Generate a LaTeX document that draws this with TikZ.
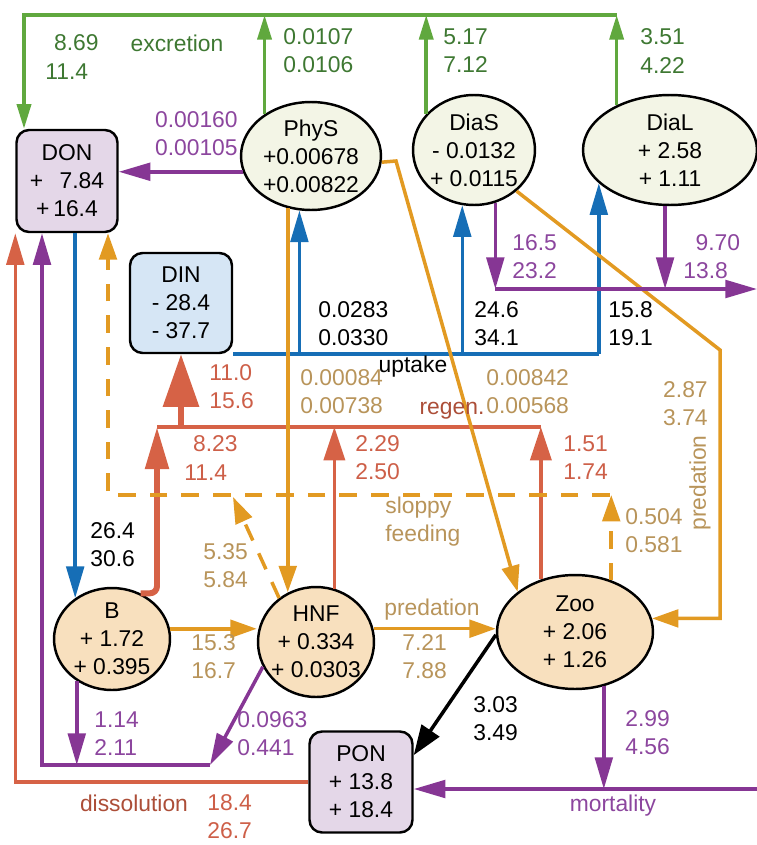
\documentclass[tikz,border=0pt]{standalone}
\usepackage{fontspec}
\setmainfont{Liberation Sans}
\usepackage{tikz}
\usetikzlibrary{shapes.geometric, arrows.meta}

\definecolor{cGreen}{RGB}{96,168,62}
\definecolor{cGreenT}{RGB}{62,120,50}
\definecolor{cBlue}{RGB}{22,110,182}
\definecolor{cPurple}{RGB}{134,54,148}
\definecolor{cPurpleT}{RGB}{140,70,158}
\definecolor{cOrange}{RGB}{226,154,34}
\definecolor{cTan}{RGB}{184,148,90}
\definecolor{cRed}{RGB}{214,98,70}
\definecolor{cRedT}{RGB}{205,95,72}
\definecolor{cRedD}{RGB}{172,78,56}
\definecolor{cPhy}{RGB}{243,245,230}
\definecolor{cZoo}{RGB}{248,224,190}
\definecolor{cOM}{RGB}{228,215,232}
\definecolor{cDIN}{RGB}{214,230,245}

\begin{document}
\begin{tikzpicture}[x=0.02cm, y=-0.02cm,
    every node/.style={font=\fontsize{13}{16}\selectfont},
    pool/.style={draw, line width=1.4pt, rounded corners=0.25cm, align=center, inner sep=0pt},
    cell/.style={draw, ellipse, line width=1.4pt, inner sep=0pt},
    txt/.style={align=center, inner sep=0pt},
    lbl/.style={inner sep=0pt, align=left, anchor=west},
    flow/.style={line width=2pt},
    excr/.style={flow, cGreen, -{Triangle[length=14pt,width=8pt]}},
    upt/.style={flow, cBlue, -{Triangle[length=18pt,width=10pt]}},
    mort/.style={flow, cPurple, -{Triangle[length=18pt,width=10pt]}},
    pred/.style={flow, cOrange, -{Triangle[length=15pt,width=10pt]}},
    sloppy/.style={pred, dash pattern=on 10pt off 8pt},
    regen/.style={flow, cRed, -{Triangle[length=19pt,width=12pt]}},
    diss/.style={flow, cRed, -{Triangle[length=18pt,width=10pt]}},
    graz/.style={flow, black, -{Triangle[length=17pt,width=12pt]}}
  ]
  \useasboundingbox (0,0) rectangle (757,845);

  % pools
  \node[pool, fill=cOM, minimum width=2.02cm, minimum height=2.04cm] (DON) at (67,181) {DON\\+\hphantom{1}\,7.84\\+\,16.4};
  \node[pool, fill=cDIN, minimum width=2.04cm, minimum height=2.0cm] (DIN) at (181,303) {DIN\\- 28.4\\- 37.7};
  \node[pool, fill=cOM, minimum width=2.06cm, minimum height=2.02cm] (PON) at (361,782) {PON\\+ 13.8\\+ 18.4};

  % organisms
  \node[cell, fill=cPhy, minimum width=2.8cm, minimum height=2.16cm,
    label={[txt]center:PhyS\\+0.00678\\+0.00822}] (PhyS) at (311,156) {};
  \node[cell, fill=cPhy, minimum width=2.44cm, minimum height=2.2cm,
    label={[txt]center:DiaS\\- 0.0132\\+ 0.0115}] (DiaS) at (474,150) {};
  \node[cell, fill=cPhy, minimum width=3.48cm, minimum height=2.2cm,
    label={[txt]center:DiaL\\+ 2.58\\+ 1.11}] (DiaL) at (670,150) {};
  \node[cell, fill=cZoo, minimum width=2.32cm, minimum height=2.04cm,
    label={[txt]center:B\\+ 1.72\\+ 0.395}] (B) at (112,639) {};
  \node[cell, fill=cZoo, minimum width=2.32cm, minimum height=2.2cm,
    label={[txt]center:HNF\\+ 0.334\\+ 0.0303}] (HNF) at (316,642) {};
  \node[cell, fill=cZoo, minimum width=3.12cm, minimum height=2.28cm,
    label={[txt]center:Zoo\\+ 2.06\\+ 1.26}] (Zoo) at (575,632) {};

  % corner points
  \coordinate (excL) at (24,15);
  \coordinate (dsOut) at (757,289);
  \coordinate (regL) at (157,427);
  \coordinate (slR) at (610,495);
  \coordinate (slL) at (108,495);
  \coordinate (slH) at (233,497);
  \coordinate (pz) at (396,161);
  \coordinate (pr) at (720,350);
  \coordinate (pL) at (42,765);
  \coordinate (pH) at (210,765);
  \coordinate (mR) at (757,789);

  % excretion
  \draw[excr] (DiaL.140.6 |- excL) -- (excL) -- (excL |- DON.north);
  \draw[excr] (PhyS.138.5) -- (PhyS.138.5 |- excL);
  \draw[excr] (DiaS.143.3) -- (DiaS.143.3 |- excL);
  \draw[excr] (DiaL.140.6) -- (DiaL.140.6 |- excL);

  % uptake
  \draw[upt, -] (DIN.south east) -- (DIN.south east -| DiaL.205);
  \draw[upt] (PhyS.258.3 |- DIN.south east) -- (PhyS.258.3);
  \draw[upt] (DiaS.258.5 |- DIN.south east) -- (DiaS.258.5);
  \draw[upt] (DiaL.205 |- DIN.south east) -- (DiaL.205);
  \draw[upt] (B.132 |- DON.south) -- (B.132);

  % regeneration
  \draw[regen, line width=3.4pt, -{Triangle[length=24pt,width=13pt]}, rounded corners=4pt] (B.58.1) -| (regL);
  \draw[regen, -] (regL) -- (Zoo.123.5 |- regL);
  \draw[regen] (HNF.71) -- (HNF.71 |- regL);
  \draw[regen] (Zoo.123.5) -- (Zoo.123.5 |- regL);
  \draw[regen, line width=3.4pt, -{Triangle[length=30pt,width=20pt]}] (DIN.south |- regL) -- (DIN.south);

  % predation
  \draw[pred] (PhyS.246.8) -- (PhyS.246.8 |- HNF.119);
  \draw[pred] (PhyS.355.9) -- (pz) -- (Zoo.145.7);
  \draw[pred] (DiaS.-44) -- (pr) |- (Zoo.10.5);
  \draw[pred] (B.10) -- (B.10 -| HNF.west);
  \draw[pred] (HNF.13) -- (HNF.13 -| Zoo.west);

  % sloppy feeding
  \draw[sloppy] (slR) -- (slL) -- (slL |- DON.south);
  \draw[sloppy] (Zoo.55.5) -- (Zoo.55.5 |- slR);
  \draw[sloppy] (HNF.130.8) -- (slH);

  % mortality, exudation
  \draw[mort] (PhyS.193.5) -- (PhyS.193.5 -| DON.east);
  \draw[mort] (DiaS.292.1 |- dsOut) -- (dsOut);
  \draw[mort] (DiaS.292.1) -- (DiaS.292.1 |- dsOut);
  \draw[mort] (DiaL.265.8) -- (DiaL.265.8 |- dsOut);
  \draw[mort] (B.230.5) -- (B.230.5 |- pL);
  \draw[mort] (HNF.205.7) -- (pH);
  \draw[mort] (pH) -- (pL) -- (pL |- DON.south);
  \draw[mort] (mR) -- (mR -| PON.east);
  \draw[mort] (Zoo.298.7) -- (Zoo.298.7 |- mR);

  % dissolution, egestion
  \draw[diss] (PON.west) -| (DON.south west);
  \draw[graz] (Zoo.182.2) -- (PON.27);

  % labels
  \node[lbl, cGreenT] (ex0) at (45,57) {\hspace*{5pt}8.69\\11.4};
  \node[lbl, cGreenT, anchor=center] (exT) at (177,43) {excretion};
  \node[lbl, cGreenT] (ex1) at (283,51) {0.0107\\0.0106};
  \node[lbl, cGreenT] (ex2) at (443,51) {5.17\\7.12};
  \node[lbl, cGreenT] (ex3) at (640,51) {3.51\\4.22};

  \node[lbl, cPurpleT, anchor=east, align=right] (mo1) at (238,134) {0.00160\\0.00105};
  \node[lbl, cPurpleT] (mo2) at (512,257) {16.5\\23.2};
  \node[lbl, cPurpleT] (mo3) at (683,257) {\hspace*{7pt}9.70\\13.8};
  \node[lbl, cPurpleT] (mo4) at (94,734) {1.14\\2.11};
  \node[lbl, cPurpleT] (mo5) at (237,734) {0.0963\\0.441};
  \node[lbl, cPurpleT] (mo6) at (625,733) {2.99\\4.56};
  \node[lbl, cPurpleT, anchor=center] (moT) at (613,806) {mortality};

  \node[lbl] (up1) at (318,324) {0.0283\\0.0330};
  \node[lbl] (up2) at (474,324) {24.6\\34.1};
  \node[lbl] (up3) at (608,324) {15.8\\19.1};
  \node[lbl, anchor=center] (upT) at (413,367) {uptake};
  \node[lbl] (up4) at (90,545) {26.4\\30.6};
  \node[lbl] (gr1) at (473,719) {3.03\\3.49};

  \node[lbl, cRedT] (re1) at (209,387) {11.0\\15.6};
  \node[lbl, cRedT] (re2) at (184,458) {\hspace*{5pt}8.23\\11.4};
  \node[lbl, cRedT] (re3) at (355,458) {2.29\\2.50};
  \node[lbl, cRedT] (re4) at (563,458) {1.51\\1.74};
  \node[lbl, cRedD, anchor=center] (reT) at (452,411) {regen.};
  \node[lbl, cRedD, anchor=center] (diT) at (134,803) {dissolution};
  \node[lbl, cRedT] (di1) at (207,817) {18.4\\26.7};

  \node[lbl, cTan] (pr1) at (300,392) {0.00084\\0.00738};
  \node[lbl, cTan] (pr2) at (486,392) {0.00842\\0.00568};
  \node[lbl, cTan, anchor=east, align=right] (pr3) at (708,404) {2.87\\3.74};
  \node[lbl, cTan, rotate=90, anchor=center] (prT1) at (700,483) {predation};
  \node[lbl, cTan] (sl0) at (385,522) {sloppy\\feeding};
  \node[lbl, cTan] (sl1) at (625,531) {0.504\\0.581};
  \node[lbl, cTan] (sl2) at (203,566) {5.35\\5.84};
  \node[lbl, cTan] (pr4) at (191,657) {15.3\\16.7};
  \node[lbl, cTan, anchor=center] (prT2) at (432,610) {predation};
  \node[lbl, cTan] (pr5) at (402,657) {7.21\\7.88};
\end{tikzpicture}
\end{document}
